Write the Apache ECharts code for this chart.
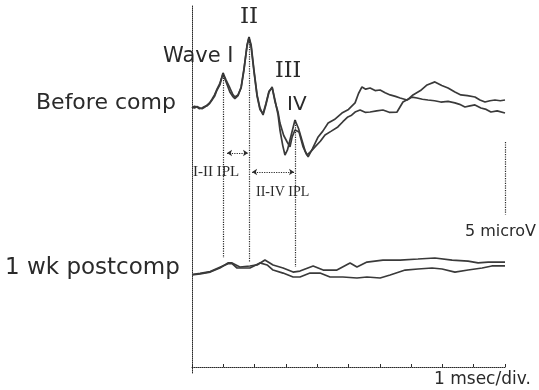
<!DOCTYPE html>
<html>
<head>
<meta charset="utf-8">
<script src="https://cdn.jsdelivr.net/npm/echarts@6/dist/echarts.min.js"></script>
<style>
html, body { margin: 0; padding: 0; background: #fff; }
#main { width: 539px; height: 390px; }
</style>
</head>
<body>
<div id="main"></div>
<script>
// time in msec, amplitude in microV (before comp baseline = 0)
var beforeA = [
        [0, 0], [0.08, 0.12], [0.16, 0.07], [0.24, -0.05], [0.32, 0], [0.40, 0.1], [0.48, 0.14],
        [0.56, 0.3], [0.64, 0.55], [0.72, 0.8], [0.80, 1.24], [0.89, 1.59],
        [0.99, 2.42], [1.09, 1.93], [1.21, 1.38], [1.30, 0.95], [1.37, 0.76], [1.47, 0.90], [1.57, 1.38],
        [1.66, 2.62], [1.76, 4.35], [1.82, 4.90], [1.89, 4.35], [1.98, 2.62], [2.08, 0.90],
        [2.17, 0], [2.27, -0.48], [2.36, 0.21], [2.46, 1.10], [2.56, 1.45], [2.65, 0.55],
        [2.75, -0.48], [2.81, -1.52], [2.90, -2.6], [2.97, -3.25], [3.05, -2.9], [3.13, -2.21], [3.29, -0.83],
        [3.40, -1.4], [3.51, -2.21], [3.62, -3.0], [3.71, -3.38], [3.85, -2.8], [4.03, -2.00], [4.18, -1.6],
        [4.35, -1.04], [4.55, -0.8], [4.79, -0.35], [5.0, -0.1], [5.21, 0.35], [5.32, 1.0], [5.43, 1.45],
        [5.55, 1.3], [5.69, 1.38], [5.85, 1.2], [6.01, 1.24], [6.17, 1.05], [6.33, 0.90], [6.50, 0.8],
        [6.65, 0.69], [6.87, 0.55], [7.03, 0.75], [7.19, 0.69], [7.36, 0.6],
        [7.54, 0.55], [7.75, 0.5], [7.95, 0.41], [8.18, 0.45], [8.40, 0.35], [8.55, 0.25], [8.72, 0.07],
        [8.88, 0.15], [9.04, 0.21], [9.23, 0], [9.40, -0.1], [9.55, -0.28], [9.75, -0.2], [10.0, -0.35]
];
var beforeB = [
        [0, 0.05], [0.08, 0.0], [0.16, 0.1], [0.24, 0.02], [0.32, -0.05], [0.40, 0.05], [0.48, 0.2],
        [0.56, 0.35], [0.64, 0.6], [0.72, 0.9], [0.80, 1.3], [0.89, 1.7],
        [0.99, 2.35], [1.09, 1.8], [1.21, 1.1], [1.30, 0.8], [1.37, 0.65], [1.47, 0.85], [1.57, 1.45],
        [1.66, 2.7], [1.76, 4.3], [1.82, 4.85], [1.89, 4.2], [1.98, 2.5], [2.08, 0.8],
        [2.17, -0.1], [2.27, -0.4], [2.36, 0.3], [2.46, 1.15], [2.56, 1.4], [2.65, 0.45],
        [2.75, -0.3], [2.81, -1.04], [2.93, -1.9], [3.04, -2.35], [3.13, -2.69], [3.20, -2.0], [3.29, -1.52],
        [3.42, -1.66], [3.55, -2.69], [3.67, -3.25], [3.80, -3.0], [3.93, -2.69], [4.10, -2.3], [4.25, -1.86],
        [4.45, -1.6], [4.66, -1.31], [4.82, -0.95], [4.98, -0.62], [5.10, -0.5],
        [5.21, -0.28], [5.37, -0.14], [5.53, -0.3], [5.69, -0.28], [5.90, -0.2], [6.10, -0.14], [6.30, -0.3],
        [6.55, -0.28], [6.74, 0.41], [6.90, 0.6],
        [7.06, 0.90], [7.30, 1.2], [7.51, 1.59], [7.76, 1.80], [7.98, 1.55], [8.18, 1.38], [8.40, 1.1],
        [8.59, 0.90], [8.80, 0.85], [9.04, 0.76], [9.20, 0.55],
        [9.36, 0.41], [9.52, 0.5], [9.68, 0.55], [9.85, 0.5], [10.0, 0.55]
];
var postU = [
        [0, -11.53], [0.26, -11.46], [0.58, -11.33], [0.89, -11.05], [1.15, -10.70], [1.28, -10.70],
        [1.53, -10.98], [1.85, -10.91], [2.08, -10.84], [2.33, -10.50], [2.59, -10.84], [2.91, -11.05],
        [3.23, -11.33], [3.45, -11.26], [3.87, -10.91], [4.19, -11.19], [4.63, -11.19], [5.05, -10.70],
        [5.27, -10.98], [5.59, -10.64], [6.10, -10.50], [6.65, -10.50], [7.22, -10.43], [7.76, -10.36],
        [8.31, -10.50], [8.82, -10.57], [9.14, -10.70], [9.46, -10.64], [10.0, -10.64]
];
var postL = [
        [0, -11.5], [0.26, -11.42], [0.58, -11.3], [0.89, -11.0], [1.15, -10.75], [1.28, -10.75],
        [1.44, -11.05], [1.85, -11.05], [2.17, -10.70], [2.40, -10.84], [2.59, -11.19], [2.91, -11.40],
        [3.23, -11.67], [3.45, -11.67], [3.77, -11.40], [4.09, -11.40], [4.41, -11.67], [4.82, -11.67],
        [5.27, -11.74], [5.59, -11.67], [6.01, -11.74], [6.33, -11.53], [6.81, -11.19], [7.22, -11.12],
        [7.67, -11.05], [7.99, -11.12], [8.40, -11.33], [8.82, -11.19], [9.27, -11.05], [9.58, -10.91],
        [10.0, -10.91]
];

// peak markers: latency, top of dotted line, bottom of dotted line
var peakLatency = [0.99, 1.82, 3.29];
var peakTop = [2.42, 4.90, -0.83];
var peakBottom = [-10.36, -10.64, -10.98];

// interpeak latency arrows [from, to, level]
var iplArrows = [[1.12, 1.79, -3.11], [1.92, 3.26, -4.42]];

// 5 microV scale bar
var scaleBar = { x: 10.0, from: -2.35, to: -7.35 };

var ink = '#2a2a2a';
var traceStyle = { color: '#3a3a3a', width: 1.7 };

var peakLines = peakLatency.map(function (t, i) {
        return [{ coord: [t, peakTop[i]] }, { coord: [t, peakBottom[i]] }];
});
var arrowLines = iplArrows.map(function (a) {
        return [{ coord: [a[0], a[2]] }, { coord: [a[1], a[2]] }];
});

var chart = echarts.init(document.getElementById('main'));

var option = {
        animation: false,
        backgroundColor: '#fff',
        grid: { left: 192, right: 34, top: 5, bottom: 17 },
        xAxis: {
                type: 'value',
                min: 0,
                max: 10,
                interval: 1,
                offset: -6,
                axisLine: { show: true, onZero: false, lineStyle: { color: ink, type: 'dotted', width: 1 } },
                axisTick: { show: true, inside: true, length: 3, lineStyle: { color: ink } },
                axisLabel: { show: false },
                splitLine: { show: false }
        },
        yAxis: {
                type: 'value',
                min: -18.3,
                max: 7.11,
                axisLine: { show: true, onZero: false, lineStyle: { color: ink, type: 'dotted', width: 1 } },
                axisTick: { show: false },
                axisLabel: { show: false },
                splitLine: { show: false }
        },
        series: [
                { name: 'before A', type: 'line', data: beforeA, showSymbol: false, lineStyle: traceStyle },
                { name: 'before B', type: 'line', data: beforeB, showSymbol: false, lineStyle: traceStyle },
                { name: 'post U', type: 'line', data: postU, showSymbol: false, lineStyle: traceStyle },
                { name: 'post L', type: 'line', data: postL, showSymbol: false, lineStyle: traceStyle },
                {
                        name: 'marks',
                        type: 'line',
                        data: [],
                        clip: false,
                        markLine: {
                                silent: true,
                                symbol: 'none',
                                label: { show: false },
                                lineStyle: { color: ink, type: 'dotted', width: 1.2 },
                                data: peakLines.concat([
                                        [{ coord: [scaleBar.x, scaleBar.from] }, { coord: [scaleBar.x, scaleBar.to] }]
                                ])
                        }
                },
                {
                        name: 'ipl',
                        type: 'line',
                        data: [],
                        clip: false,
                        markLine: {
                                silent: true,
                                symbol: ['arrow', 'arrow'],
                                symbolSize: 5,
                                label: { show: false },
                                lineStyle: { color: ink, type: 'dotted', width: 1.2 },
                                data: arrowLines
                        }
                }
        ],
        graphic: [
                { type: 'text', left: 163, top: 46, style: { text: 'Wave I', font: '21px "DejaVu Sans"', fill: ink } },
                { type: 'text', left: 240, top: 6, style: { text: 'II', font: '23px "DejaVu Serif"', fill: ink } },
                { type: 'text', left: 275, top: 60, style: { text: 'III', font: '22px "DejaVu Serif"', fill: ink } },
                { type: 'text', left: 287, top: 95, style: { text: 'IV', font: '20px "DejaVu Sans"', fill: ink } },
                { type: 'text', left: 193, top: 165, style: { text: 'I-II IPL', font: '15px "Liberation Serif"', fill: ink } },
                { type: 'text', left: 256, top: 185, style: { text: 'II-IV IPL', font: '14px "Liberation Serif"', fill: ink } },
                { type: 'text', left: 36, top: 92, style: { text: 'Before comp', font: '22px "DejaVu Sans"', fill: ink } },
                { type: 'text', left: 5, top: 257, style: { text: '1 wk postcomp', font: '23px "DejaVu Sans"', fill: ink } },
                { type: 'text', left: 465, top: 224, style: { text: '5 microV', font: '16px "DejaVu Sans"', fill: ink } },
                { type: 'text', left: 434, top: 371, style: { text: '1 msec/div.', font: '17px "DejaVu Sans"', fill: ink } }
        ]
};

chart.setOption(option);
</script>
</body>
</html>
